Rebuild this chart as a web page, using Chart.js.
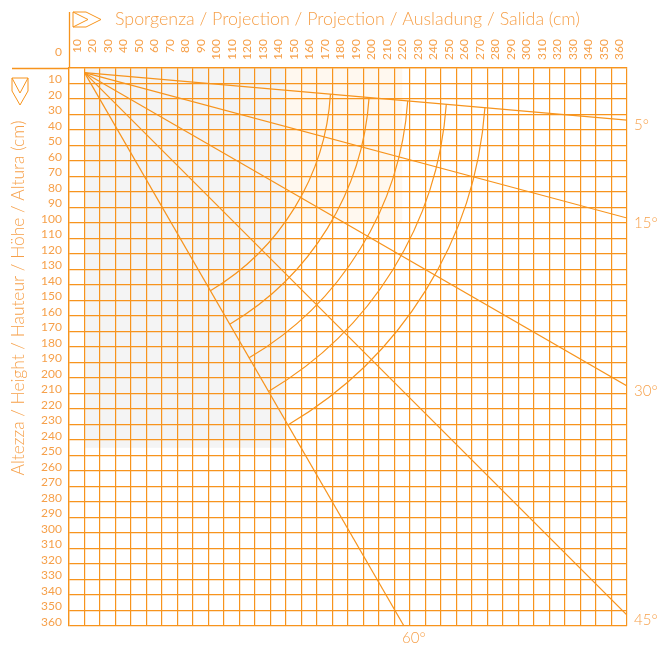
<!DOCTYPE html>
<html lang="it">
<head>
<meta charset="UTF-8">
<title>Sporgenza / Altezza</title>
<script src="https://cdn.jsdelivr.net/npm/chart.js"></script>
<style>
    body { margin: 0; background: #fff; }
    #wrap { width: 662px; height: 645px; }
</style>
</head>
<body>
<div id="wrap"><canvas id="awningChart"></canvas></div>
<script>
// dati
const origin = [10, 3];                       // punto di partenza dei raggi (sporgenza, altezza)
const arcCenter = [10, 7];                    // centro degli archi
const angles = [5, 15, 30, 45, 60];           // inclinazioni in gradi
const radii = [159, 184, 209, 234, 259];      // lunghezze braccio (cm)
const xTickLabels = [10, 20, 30, 40, 50, 60, 70, 80, 90, 100, 110, 120, 130, 140, 150, 160, 170, 180,
    190, 200, 210, 220, 230, 240, 250, 260, 270, 280, 290, 300, 310, 320, 330, 340, 350, 360];
const yTickLabels = [10, 20, 30, 40, 50, 60, 70, 80, 90, 100, 110, 120, 130, 140, 150, 160, 170, 180,
    190, 200, 210, 220, 230, 240, 250, 260, 270, 280, 290, 300, 310, 320, 330, 340, 350, 360];
const xTitle = 'Sporgenza / Projection / Projection / Ausladung / Salida (cm)';
const yTitle = 'Altezza / Height / Hauteur / Höhe / Altura (cm)';
const maxVal = 360;

const lineColor = '#f7941d';
const textColor = '#f6a04a';
const font = 'Lato, "Open Sans", sans-serif';

function dir(deg) {
    const a = deg * Math.PI / 180;
    return [Math.cos(a), Math.sin(a)];
}

// estremo di ogni raggio sul bordo della griglia
function rayEnd(deg) {
    const [c, s] = dir(deg);
    const t = Math.min((maxVal - origin[0]) / c, (maxVal - origin[1]) / s);
    return { x: origin[0] + t * c, y: origin[1] + t * s };
}

// punto in cui il raggio incontra l'arco di raggio r
function rayArcPoint(deg, r) {
    const [c, s] = dir(deg);
    const fx = origin[0] - arcCenter[0], fy = origin[1] - arcCenter[1];
    const b = fx * c + fy * s;
    const t = -b + Math.sqrt(b * b - (fx * fx + fy * fy - r * r));
    return { x: origin[0] + t * c, y: origin[1] + t * s };
}

const rayDatasets = angles.map(deg => ({
    label: deg + '°',
    data: [{ x: origin[0], y: origin[1] }, rayEnd(deg)],
    showLine: true,
    borderColor: lineColor,
    borderWidth: 1.2,
    pointRadius: 0,
    fill: false
}));

// adatta la dimensione del font a una lunghezza data
function fitFont(ctx, text, width, base) {
    ctx.font = '300 ' + base + 'px ' + font;
    const w = ctx.measureText(text).width;
    ctx.font = '300 ' + (base * width / w).toFixed(2) + 'px ' + font;
}

const decorPlugin = {
    id: 'decor',
    beforeDraw(chart) {
        // filigrana leggera sullo sfondo
        const ctx = chart.ctx;
        const xs = chart.scales.x, ys = chart.scales.y;
        ctx.save();
        ctx.fillStyle = '#f4f4f4';
        ctx.fillRect(xs.getPixelForValue(10), ys.getPixelForValue(0),
            xs.getPixelForValue(140) - xs.getPixelForValue(10), ys.getPixelForValue(245) - ys.getPixelForValue(0));
        ctx.fillStyle = '#fff8ef';
        ctx.fillRect(xs.getPixelForValue(140), ys.getPixelForValue(0),
            xs.getPixelForValue(215) - xs.getPixelForValue(140), ys.getPixelForValue(100) - ys.getPixelForValue(0));
        ctx.restore();
    },
    afterDatasetsDraw(chart) {
        const ctx = chart.ctx;
        const xs = chart.scales.x, ys = chart.scales.y;
        const cx = xs.getPixelForValue(arcCenter[0]);
        const cy = ys.getPixelForValue(arcCenter[1]);
        const unit = xs.getPixelForValue(1) - xs.getPixelForValue(0);
        ctx.save();
        ctx.strokeStyle = lineColor;
        ctx.lineWidth = 1.2;
        radii.forEach(r => {
            const p0 = rayArcPoint(angles[0], r);
            const p1 = rayArcPoint(angles[angles.length - 1], r);
            const a0 = Math.atan2(p0.y - arcCenter[1], p0.x - arcCenter[0]);
            const a1 = Math.atan2(p1.y - arcCenter[1], p1.x - arcCenter[0]);
            ctx.beginPath();
            ctx.arc(cx, cy, r * unit, a0, a1, false);
            ctx.stroke();
        });
        ctx.restore();
    },
    afterDraw(chart) {
        const ctx = chart.ctx;
        const xs = chart.scales.x, ys = chart.scales.y;
        const area = chart.chartArea;
        ctx.save();

        // prolungamento degli assi
        ctx.strokeStyle = lineColor;
        ctx.lineWidth = 1.3;
        ctx.beginPath();
        ctx.moveTo(12, area.top + 0.5);
        ctx.lineTo(area.left, area.top + 0.5);
        ctx.moveTo(area.left + 0.5, 12);
        ctx.lineTo(area.left + 0.5, area.top);
        ctx.stroke();

        // frecce
        ctx.lineWidth = 1;
        ctx.beginPath();
        ctx.moveTo(73, 12); ctx.lineTo(86, 12); ctx.lineTo(101, 19.5);
        ctx.lineTo(86, 27); ctx.lineTo(73, 27); ctx.closePath();
        ctx.moveTo(73, 12); ctx.lineTo(88, 19.5); ctx.lineTo(73, 27);
        ctx.stroke();
        ctx.beginPath();
        ctx.moveTo(12, 78); ctx.lineTo(28, 78); ctx.lineTo(28, 91);
        ctx.lineTo(20, 105); ctx.lineTo(12, 91); ctx.closePath();
        ctx.moveTo(12, 78); ctx.lineTo(20, 93); ctx.lineTo(28, 78);
        ctx.stroke();

        ctx.fillStyle = textColor;

        // titoli
        ctx.textAlign = 'left';
        ctx.textBaseline = 'middle';
        fitFont(ctx, xTitle, 465, 16);
        ctx.fillText(xTitle, 115, 19);
        ctx.save();
        ctx.translate(18, 298);
        ctx.rotate(-Math.PI / 2);
        ctx.textAlign = 'center';
        fitFont(ctx, yTitle, 355, 16);
        ctx.fillText(yTitle, 0, 0);
        ctx.restore();

        // etichette asse x (ruotate, al centro della colonna)
        ctx.font = '12px ' + font;
        xTickLabels.forEach(v => {
            ctx.save();
            ctx.translate(xs.getPixelForValue(v - 5), 39);
            ctx.rotate(-Math.PI / 2);
            ctx.textAlign = 'right';
            ctx.textBaseline = 'middle';
            ctx.fillText(String(v), 0, 0);
            ctx.restore();
        });
        ctx.textAlign = 'center';
        ctx.fillText('0', 58.5, 52);

        // etichette angoli
        ctx.font = '300 15px ' + font;
        ctx.textAlign = 'left';
        angles.forEach(deg => {
            const e = rayEnd(deg);
            const px = xs.getPixelForValue(e.x), py = ys.getPixelForValue(e.y);
            if (e.y >= maxVal - 0.01) {
                ctx.fillText(deg + '°', px - 2, py + 12);
            } else {
                ctx.fillText(deg + '°', px + 7, py + 5);
            }
        });
        ctx.restore();
    }
};

const ctx = document.getElementById('awningChart').getContext('2d');
new Chart(ctx, {
    type: 'scatter',
    data: { datasets: rayDatasets },
    plugins: [decorPlugin],
    options: {
        responsive: true,
        maintainAspectRatio: false,
        animation: false,
        events: [],
        layout: { padding: { left: 0, top: 0, right: 35, bottom: 19 } },
        plugins: { legend: { display: false }, tooltip: { enabled: false } },
        scales: {
            x: {
                type: 'linear',
                position: 'top',
                min: 0,
                max: maxVal,
                afterFit: s => { s.height = 68; },
                ticks: { stepSize: 10, display: false, autoSkip: false },
                grid: { color: lineColor, lineWidth: 1.2, drawTicks: false },
                border: { color: lineColor, width: 1.3 }
            },
            y: {
                type: 'linear',
                reverse: true,
                min: 0,
                max: maxVal,
                afterFit: s => { s.width = 69; },
                ticks: {
                    stepSize: 10,
                    autoSkip: false,
                    padding: 7,
                    labelOffset: -4,
                    color: textColor,
                    font: { family: font, size: 12 },
                    callback: v => yTickLabels.includes(v) ? String(v) : ''
                },
                grid: { color: lineColor, lineWidth: 1.2, drawTicks: false },
                border: { color: lineColor, width: 1.3 }
            }
        }
    }
});
</script>
</body>
</html>
